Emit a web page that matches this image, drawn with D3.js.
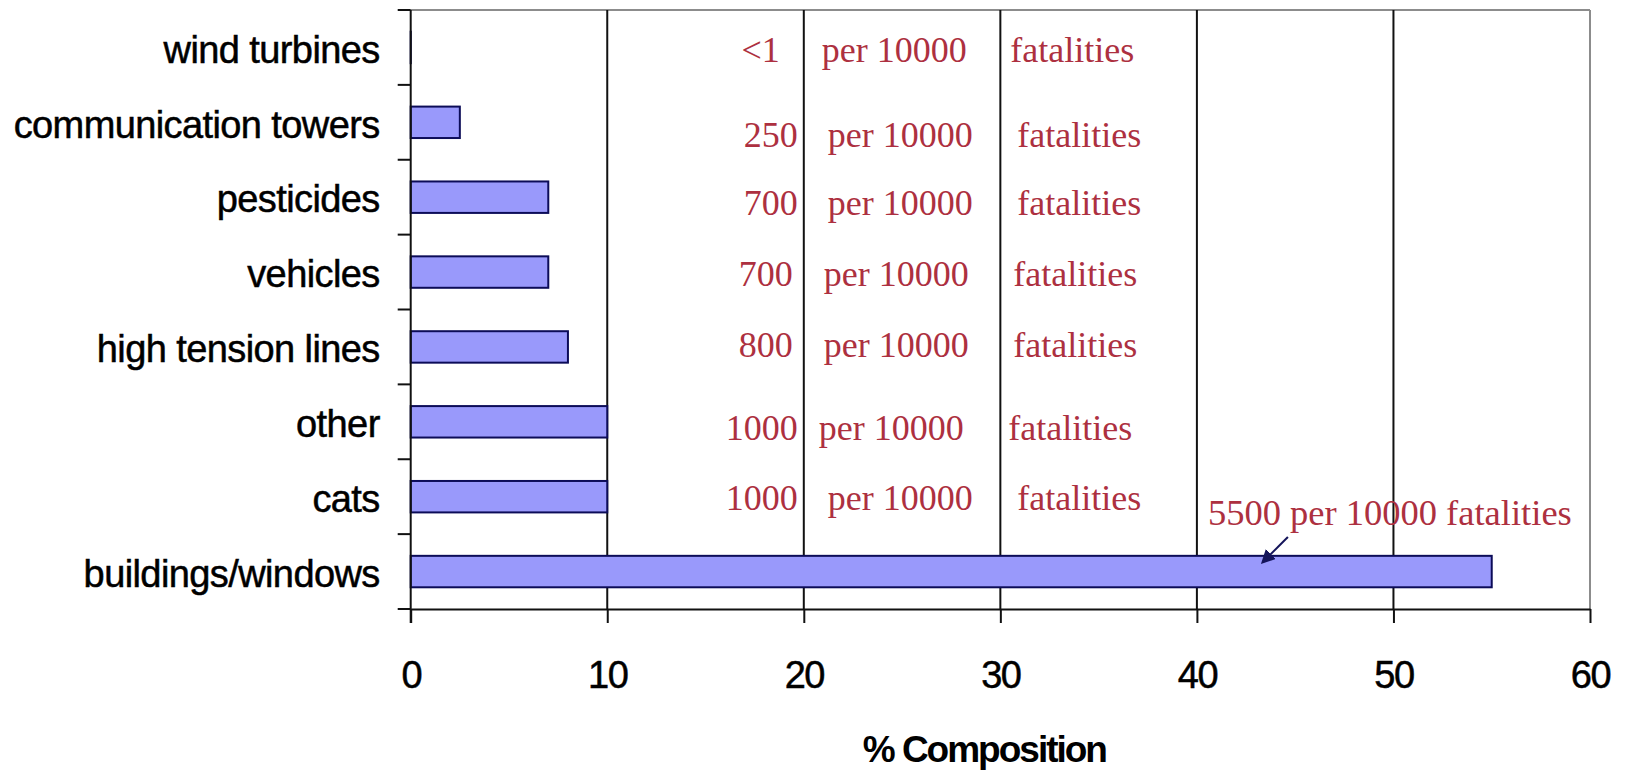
<!DOCTYPE html>
<html>
<head>
<meta charset="utf-8">
<script src="https://cdn.jsdelivr.net/npm/d3@7"></script>
<style>
  html, body { margin: 0; padding: 0; background: #ffffff; }
  svg { display: block; }
</style>
</head>
<body>
<svg id="chart" width="1626" height="771"></svg>
<script>
// Bird fatalities by cause, top to bottom as drawn
const categories = [
  "wind turbines",
  "communication towers",
  "pesticides",
  "vehicles",
  "high tension lines",
  "other",
  "cats",
  "buildings/windows"
];
// fatalities per 10000 (wind turbines: under 1)
const per10000 = [0.5, 250, 700, 700, 800, 1000, 1000, 5500];
// x-axis tick values (% composition)
const xTicks = [0, 10, 20, 30, 40, 50, 60];
const xTitle = "% Composition";

(function draw() {
  const pct = per10000.map(v => v / 100);
  const countText = v => (v < 1 ? "<1" : String(v));

  const svg = d3.select("#chart");
  const plotL = 410.7, plotR = 1590, plotT = 10, plotB = 609;

  const x = d3.scaleLinear().domain([0, 60]).range([plotL, plotR]);
  const y = d3.scaleBand().domain(categories).range([plotT, plotB])
    .paddingInner(0.58).paddingOuter(0.29);

  const axisColor = "#111111";
  const borderGrey = "#8c8c8c";

  // plot frame: grey top and right edges
  svg.append("line").attr("x1", plotL).attr("x2", plotR).attr("y1", plotT).attr("y2", plotT)
    .attr("stroke", borderGrey).attr("stroke-width", 2);
  svg.append("line").attr("x1", plotR).attr("x2", plotR).attr("y1", plotT).attr("y2", plotB)
    .attr("stroke", borderGrey).attr("stroke-width", 2);

  // vertical gridlines
  svg.append("g").selectAll("line")
    .data(xTicks.filter(t => t > 0 && t < 60))
    .join("line")
    .attr("x1", d => x(d)).attr("x2", d => x(d))
    .attr("y1", plotT).attr("y2", plotB)
    .attr("stroke", axisColor).attr("stroke-width", 2);

  // bars
  svg.append("g").selectAll("rect")
    .data(categories)
    .join("rect")
    .attr("x", x(0))
    .attr("y", d => y(d))
    .attr("width", (d, i) => x(pct[i]) - x(0))
    .attr("height", y.bandwidth())
    .attr("fill", "#9999fb")
    .attr("stroke", "#0c0c58")
    .attr("stroke-width", 2);

  // x axis
  const xAxis = svg.append("g")
    .attr("transform", `translate(0,${plotB})`)
    .call(d3.axisBottom(x).tickValues(xTicks).tickSize(14).tickPadding(38).tickSizeOuter(0));
  xAxis.select(".domain").attr("stroke", axisColor).attr("stroke-width", 2);
  xAxis.selectAll(".tick line").attr("stroke", axisColor).attr("stroke-width", 2);
  xAxis.selectAll(".tick text")
    .attr("fill", "#000")
    .attr("stroke", "#000").attr("stroke-width", 0.5)
    .style("font-family", "'Liberation Sans', Arial, sans-serif")
    .style("font-size", "38px")
    .style("letter-spacing", "-1.5px");

  // y axis: labels from the band scale, ticks on category boundaries
  const yAxis = svg.append("g")
    .attr("transform", `translate(${plotL},0)`)
    .call(d3.axisLeft(y).tickSize(0).tickPadding(31));
  yAxis.select(".domain").remove();
  yAxis.selectAll(".tick text")
    .attr("fill", "#000")
    .attr("stroke", "#000").attr("stroke-width", 0.5)
    .attr("dy", "0.4em")
    .style("font-family", "'Liberation Sans', Arial, sans-serif")
    .style("font-size", "38px")
    .style("letter-spacing", "-0.6px");

  svg.append("line").attr("x1", plotL).attr("x2", plotL).attr("y1", plotT).attr("y2", plotB + 14)
    .attr("stroke", axisColor).attr("stroke-width", 2);

  const bounds = d3.range(categories.length + 1).map(i => plotT + i * y.step());
  svg.append("g").selectAll("line")
    .data(bounds)
    .join("line")
    .attr("x1", plotL - 13).attr("x2", plotL)
    .attr("y1", d => d).attr("y2", d => d)
    .attr("stroke", axisColor).attr("stroke-width", 2);

  // axis title
  svg.append("text")
    .attr("x", (plotL + plotR) / 2 - 16)
    .attr("y", 762)
    .attr("text-anchor", "middle")
    .style("font-family", "'Liberation Sans', Arial, sans-serif")
    .style("font-weight", "bold")
    .style("font-size", "37px")
    .style("letter-spacing", "-2px")
    .text(xTitle);

  // per-10000 annotations; text-box offsets: [count end, "per" start, "fatalities" start, baseline]
  const noteRed = "#ad3040";
  const noteFont = "'Liberation Serif', 'Times New Roman', serif";
  const boxOffsets = [
    [-24, 18, 10, 14.6],
    [-6, 24, 17, 24.7],
    [-6, 24, 17, 17.8],
    [-11, 20, 13, 13.9],
    [-11, 20, 13, 9.8],
    [-6, 15, 8, 18.2],
    [-6, 24, 17, 13.3]
  ];
  const notes = svg.append("g")
    .style("font-family", noteFont)
    .style("font-size", "36px")
    .attr("fill", noteRed);

  categories.slice(0, 7).forEach((c, i) => {
    const [dNum, dPer, dFat, dBase] = boxOffsets[i];
    const base = y(c) + y.bandwidth() / 2 + dBase;
    notes.append("text").attr("x", x(20) + dNum).attr("y", base)
      .attr("text-anchor", "end").text(countText(per10000[i]));
    notes.append("text").attr("x", x(20) + dPer).attr("y", base).text("per 10000");
    notes.append("text").attr("x", x(30) + dFat).attr("y", base).text("fatalities");
  });

  // largest cause: label above its bar with a pointer arrow
  const lastIdx = categories.length - 1;
  const lastCat = categories[lastIdx];
  const lx = x(40) + 11;
  const lb = y(lastCat) + y.bandwidth() / 2 - 46.6;
  notes.append("text").attr("x", lx).attr("y", lb)
    .style("font-size", "36.5px")
    .text(`${countText(per10000[lastIdx])} per 10000 fatalities`);

  svg.append("defs").append("marker")
    .attr("id", "arrowhead")
    .attr("viewBox", "0 0 10 10")
    .attr("refX", 8).attr("refY", 5)
    .attr("markerWidth", 7).attr("markerHeight", 7)
    .attr("markerUnits", "strokeWidth")
    .attr("orient", "auto")
    .append("path").attr("d", "M0,0 L10,5 L0,10 z").attr("fill", "#14145a");

  svg.append("line")
    .attr("x1", lx + 80).attr("y1", lb + 12)
    .attr("x2", lx + 55).attr("y2", lb + 37)
    .attr("stroke", "#14145a").attr("stroke-width", 2)
    .attr("marker-end", "url(#arrowhead)");
})();
</script>
</body>
</html>
